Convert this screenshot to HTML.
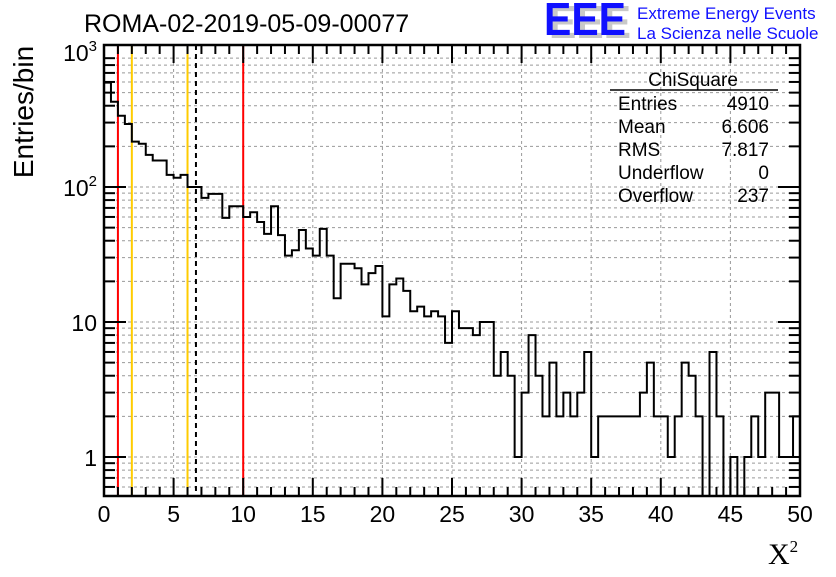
<!DOCTYPE html>
<html><head><meta charset="utf-8"><style>
body{margin:0;background:#fff;width:836px;height:572px;overflow:hidden}
svg{font-family:"Liberation Sans",sans-serif}
</style></head><body>
<svg id="c" width="836" height="572">
<text x="84" y="32" font-size="25">ROMA-02-2019-05-09-00077</text>
<g>
<text x="549" y="38" font-size="46" font-weight="bold" fill="#c8c8c8" textLength="82" lengthAdjust="spacingAndGlyphs">EEE</text>
<text x="544" y="35" font-size="46" font-weight="bold" fill="#1010ff" textLength="82" lengthAdjust="spacingAndGlyphs">EEE</text>
<text x="637" y="19" font-size="17" fill="#1010ff">Extreme Energy Events</text>
<text x="637" y="39" font-size="17" fill="#1010ff">La Scienza nelle Scuole</text>
</g>
<text transform="translate(33,112) rotate(-90)" font-size="28" text-anchor="middle">Entries/bin</text>
<text x="768" y="564" font-size="30" font-family="Liberation Serif,serif">X<tspan font-size="17" dy="-12">2</tspan></text>
<g id="grid"></g><g id="lines"></g><g id="hist"></g><g id="axes"></g>
<g font-size="19">
<text x="693" y="86" text-anchor="middle">ChiSquare</text>
<line x1="610" y1="90" x2="778" y2="90" stroke="#000" stroke-width="1.5"/>
<text x="618" y="110">Entries</text><text x="769" y="110" text-anchor="end">4910</text>
<text x="618" y="133">Mean</text><text x="769" y="133" text-anchor="end">6.606</text>
<text x="618" y="156">RMS</text><text x="769" y="156" text-anchor="end">7.817</text>
<text x="618" y="179">Underflow</text><text x="769" y="179" text-anchor="end">0</text>
<text x="618" y="202">Overflow</text><text x="769" y="202" text-anchor="end">237</text>
</g>
</svg>
<script>
const counts=[593,428,337,293,217,209,173,157,157,123,117,123,100,100,83,89,89,59,72,72,60,65,55,45,72,44,31,34,48,35,31,49,31,15,27,27,25,19,23,26,11,19,21,17,12,13,11,12,11,7,12,9,9,8,10,10,4,6,4,1,3,8,4,2,5,2,3,2,3,6,1,2,2,2,2,2,2,3,5,2,2,1,2,5,4,2,0,6,2,0,1,0,1,2,1,3,3,1,1,2];
const xTicks=[0,5,10,15,20,25,30,35,40,45,50];
const yTicks=[1,10,100,1000];
const redCuts=[1,10], orangeCuts=[2,6], meanVal=6.606;
const binW=0.5;
const L=104,R=800,T=45,B=496,XMIN=0,XMAX=50,YMIN=0.514,YMAX=1127;
const X=v=>L+(v-XMIN)/(XMAX-XMIN)*(R-L);
const Y=v=>v<=0?B:Math.max(T,Math.min(B,457-135*Math.log10(v)));
const NS='http://www.w3.org/2000/svg';
function mk(tag,attrs,parent){const e=document.createElementNS(NS,tag);for(const k in attrs)e.setAttribute(k,attrs[k]);document.getElementById(parent).appendChild(e);return e;}
for(const t of xTicks){if(t===XMIN||t===XMAX)continue;
 const g=mk('line',{x1:X(t),x2:X(t),y1:T,y2:B,stroke:'#999','stroke-dasharray':'3,3','stroke-width':1},'grid');
 
 }
for(let d=0;d<4;d++)for(let m=1;m<=9;m++){const v=m*Math.pow(10,d-1);if(v<YMIN||v>YMAX)continue;
 const g=mk('line',{x1:L,x2:R,y1:Y(v),y2:Y(v),stroke:'#999','stroke-dasharray':'3,3','stroke-width':1},'grid');
 
 }
function vline(v,col,dash,name){const e=mk('line',{x1:X(v),x2:X(v),y1:T,y2:B,stroke:col,'stroke-width':2},'lines');if(dash)e.setAttribute('stroke-dasharray',dash);
 
 }
redCuts.forEach(v=>vline(v,'#f00',null,'red-cut-line'));
orangeCuts.forEach(v=>vline(v,'#fc0',null,'orange-cut-line'));
vline(meanVal,'#000','5,4','mean-line');
let d='';
counts.forEach((c,i)=>{const x0=X(i*binW),x1=X((i+1)*binW),y=Y(c);d+=(i===0?'M'+x0+','+y:'L'+x0+','+y)+'L'+x1+','+y;});
const h=mk('path',{d:d,fill:'none',stroke:'#000','stroke-width':2},'hist');


const f=mk('rect',{x:L,y:T,width:R-L,height:B-T,fill:'none',stroke:'#000','stroke-width':2.5},'axes');


for(let v=XMIN;v<=XMAX;v++){const len=v%5===0?18:9;
 mk('line',{x1:X(v),x2:X(v),y1:B,y2:B-len,stroke:'#000','stroke-width':2},'axes');
 mk('line',{x1:X(v),x2:X(v),y1:T,y2:T+len,stroke:'#000','stroke-width':2},'axes');}
xTicks.forEach(t=>{const e=mk('text',{x:X(t),y:522,'font-size':23,'text-anchor':'middle'},'axes');e.textContent=t;
 
 });
for(let dd=0;dd<4;dd++)for(let m=1;m<=9;m++){const v=m*Math.pow(10,dd-1);if(v<YMIN||v>YMAX)continue;const len=m===1?22:11;
 mk('line',{x1:L,x2:L+len,y1:Y(v),y2:Y(v),stroke:'#000','stroke-width':2},'axes');
 mk('line',{x1:R,x2:R-len,y1:Y(v),y2:Y(v),stroke:'#000','stroke-width':2},'axes');}
yTicks.forEach(t=>{const e=mk('text',{x:97,y:Y(t)+9,'font-size':23,'text-anchor':'end'},'axes');
 if(t>=100){e.innerHTML='10<tspan font-size="15" dy="-10">'+Math.log10(t)+'</tspan>';}else e.textContent=t;
 
 });
</script>
</body></html>
